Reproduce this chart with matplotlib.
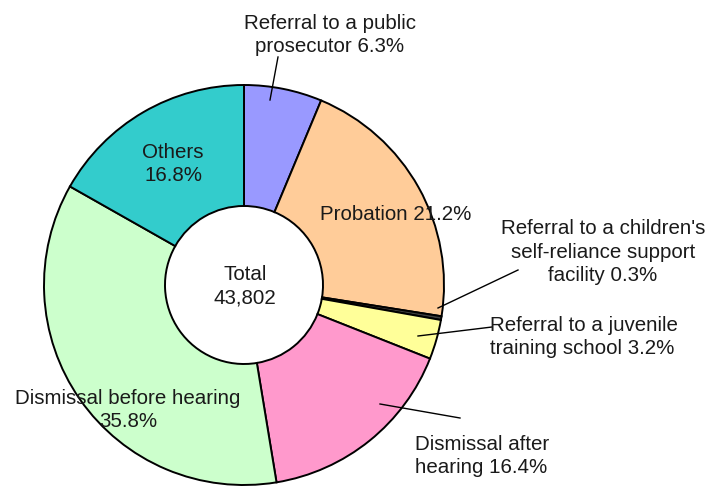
import matplotlib.pyplot as plt

plt.rcParams['font.family'] = ['Liberation Sans', 'DejaVu Sans']

categories = [
    "Referral to a public\nprosecutor",
    "Probation",
    "Referral to a children's\nself-reliance support\nfacility",
    "Referral to a juvenile\ntraining school",
    "Dismissal after\nhearing",
    "Dismissal before hearing\n",
    "Others\n",
]
shares = [6.3, 21.2, 0.3, 3.2, 16.4, 35.8, 16.8]
colors = ['#9999ff', '#ffcc99', '#404040', '#ffff99', '#ff99cc', '#ccffcc', '#33cccc']
total = 43802

W, H = 710, 486


def Y(y):
    return H - y


fig = plt.figure(figsize=(7.1, 4.86), dpi=100)
ax = fig.add_axes([0, 0, 1, 1])
ax.pie(shares, colors=colors, startangle=90, counterclock=False,
       radius=200, center=(244, Y(285)),
       wedgeprops=dict(width=121, edgecolor='black', linewidth=1.4))
ax.set_xlim(0, W)
ax.set_ylim(0, H)
ax.set_aspect('equal')
ax.axis('off')

fs = 14.8
tc = '#1a1a1a'


def label(i, x, y, ha='center'):
    txt = f"{categories[i]} {shares[i]:.1f}%" if not categories[i].endswith("\n") \
        else f"{categories[i]}{shares[i]:.1f}%"
    ax.text(x, Y(y), txt, ha=ha, va='center', fontsize=fs, color=tc, linespacing=1.3)


label(0, 330, 35)
label(1, 396, 215)
label(2, 603, 252)
label(3, 490, 337, ha='left')
label(4, 415, 456, ha='left')
label(5, 128, 410)
label(6, 173, 164)
ax.text(245, Y(286), f"Total\n{total:,}", ha='center', va='center',
        fontsize=fs, color=tc, linespacing=1.3)

# leader lines
leaders = [((278, 57), (270, 100)),
           ((518, 270), (438, 308)),
           ((492, 327), (418, 336)),
           ((460, 418), (380, 404))]
for (x1, y1), (x2, y2) in leaders:
    ax.plot([x1, x2], [Y(y1), Y(y2)], color='black', lw=1)

fig.savefig('out.png', dpi=100)
